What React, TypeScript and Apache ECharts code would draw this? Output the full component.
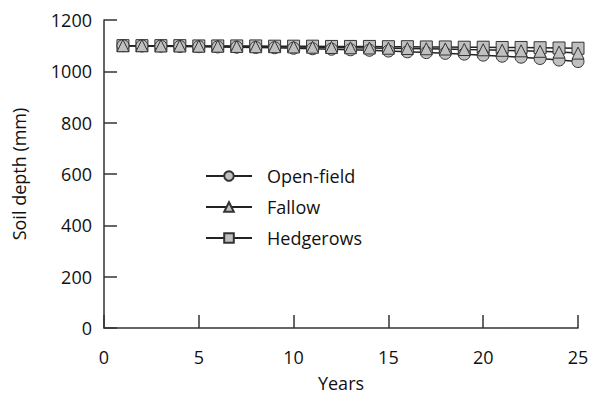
import React, { useEffect, useRef } from "react";
import * as echarts from "echarts";

const years = [1, 2, 3, 4, 5, 6, 7, 8, 9, 10, 11, 12, 13, 14, 15, 16, 17, 18, 19, 20, 21, 22, 23, 24, 25];
const openField = [1100, 1099, 1098, 1097, 1096, 1095, 1094, 1093, 1092, 1090, 1088, 1086, 1084, 1082, 1079, 1076, 1073, 1070, 1067, 1063, 1059, 1055, 1050, 1044, 1038];
const fallow = [1100, 1100, 1099, 1099, 1098, 1098, 1097, 1096, 1096, 1095, 1094, 1093, 1092, 1091, 1090, 1089, 1088, 1087, 1085, 1084, 1082, 1080, 1078, 1075, 1071];
const hedgerows = [1100, 1100, 1100, 1100, 1099, 1099, 1099, 1099, 1098, 1098, 1098, 1097, 1097, 1097, 1096, 1096, 1095, 1095, 1094, 1094, 1093, 1093, 1092, 1091, 1090];

const FONT = "Open Sans";
const INK = "#333333";
const FILL = "#c0c0c0";
const TEXT = "#111111";

function makeSeries(name: string, values: number[], symbol: string, size: number) {
  return {
    name,
    type: "line",
    data: years.map((y, i) => [y, values[i]]),
    symbol,
    symbolSize: size,
    showAllSymbol: true,
    lineStyle: { color: "#222222", width: 1.5 },
    itemStyle: { color: FILL, borderColor: INK, borderWidth: 1 },
  };
}

export default function App() {
  const ref = useRef<HTMLDivElement>(null);

  useEffect(() => {
    const chart = echarts.init(ref.current!, null, { renderer: "svg" });
    chart.setOption({
      animation: false,
      backgroundColor: "#ffffff",
      grid: { left: 104, right: 16, top: 20, bottom: 75, containLabel: false },
      legend: {
        orient: "vertical",
        left: 200,
        top: 161,
        itemWidth: 46,
        itemHeight: 12,
        itemGap: 11,
        data: ["Open-field", "Fallow", "Hedgerows"],
        textStyle: { fontFamily: FONT, fontSize: 18, color: TEXT, lineHeight: 20, padding: [0, 0, 0, 10] },
      },
      xAxis: {
        type: "value",
        min: 0,
        max: 25,
        interval: 5,
        name: "Years",
        nameLocation: "middle",
        nameGap: 46,
        nameTextStyle: { fontFamily: FONT, fontSize: 18, color: TEXT },
        axisLine: { lineStyle: { color: INK, width: 1.5 } },
        axisTick: { inside: true, length: 13, lineStyle: { color: INK, width: 1.5 } },
        axisLabel: { fontFamily: FONT, fontSize: 18, color: TEXT, margin: 20 },
        splitLine: { show: false },
      },
      yAxis: {
        type: "value",
        min: 0,
        max: 1200,
        interval: 200,
        name: "Soil depth (mm)",
        nameLocation: "middle",
        nameGap: 76,
        nameTextStyle: { fontFamily: FONT, fontSize: 18, color: TEXT },
        axisLine: { show: true, lineStyle: { color: INK, width: 1.5 } },
        axisTick: { show: true, inside: true, length: 13, lineStyle: { color: INK, width: 1.5 } },
        axisLabel: { fontFamily: FONT, fontSize: 18, color: TEXT, margin: 12, formatter: (v: number) => String(v) },
        splitLine: { show: false },
      },
      series: [
        makeSeries("Hedgerows", hedgerows, "rect", 12),
        makeSeries("Open-field", openField, "circle", 12),
        makeSeries("Fallow", fallow, "triangle", 12),
      ],
    });
    return () => chart.dispose();
  }, []);

  return <div ref={ref} style={{ width: 594, height: 403, position: "absolute", left: 0, top: 0 }} />;
}
